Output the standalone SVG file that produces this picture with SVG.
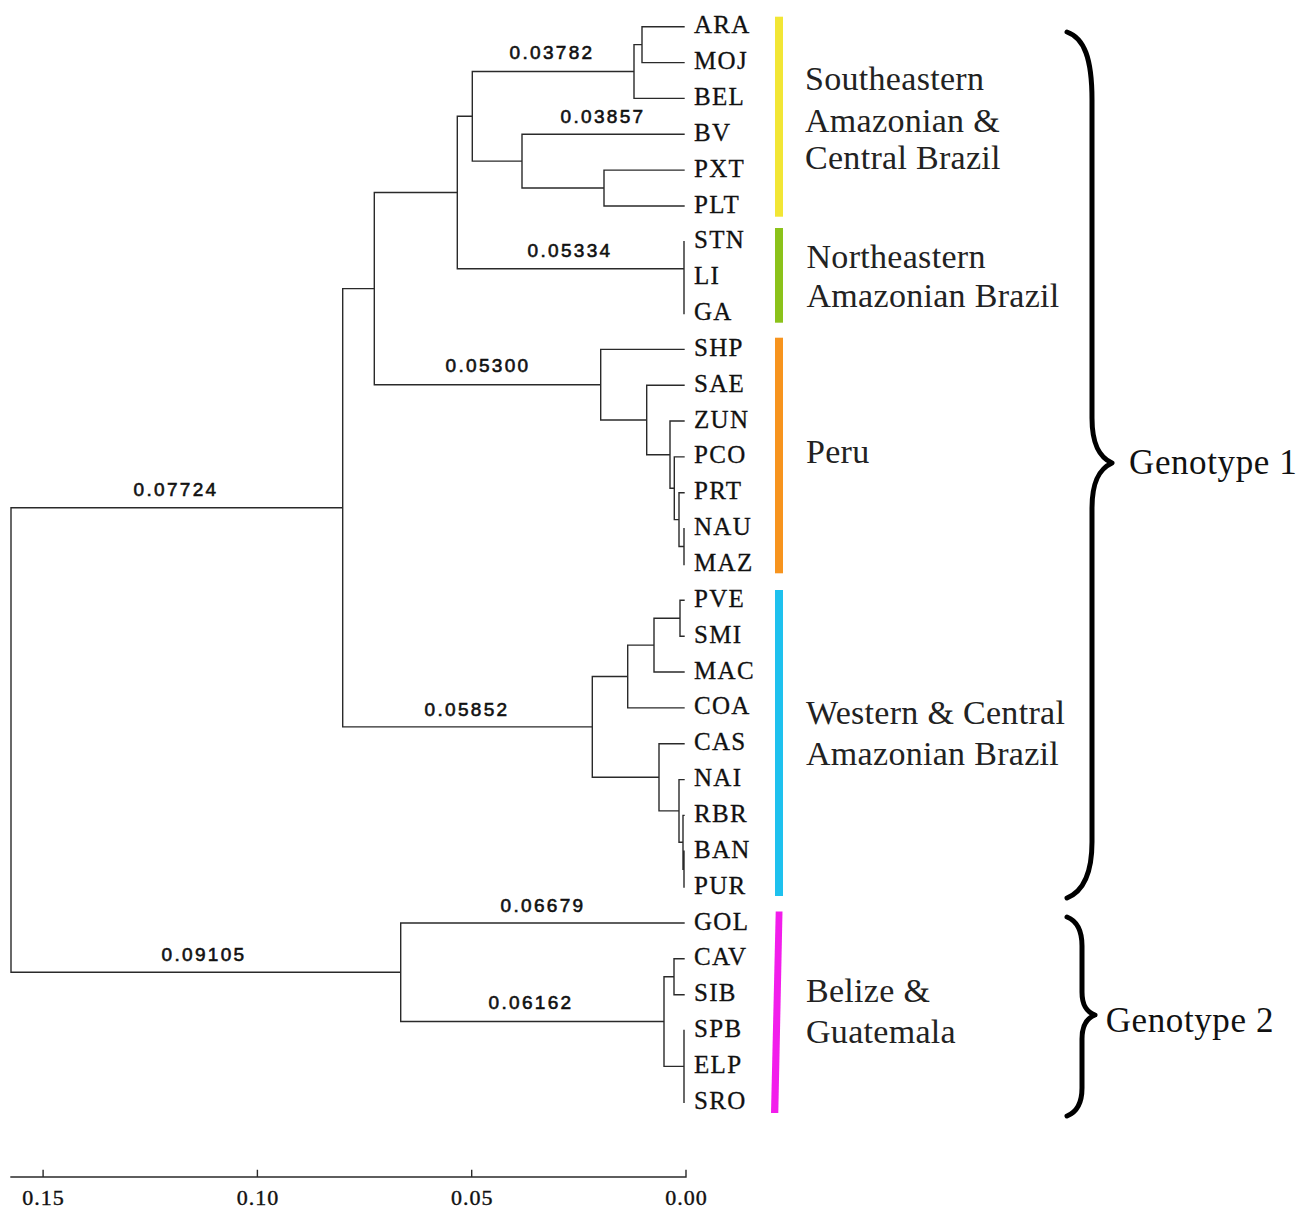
<svg xmlns="http://www.w3.org/2000/svg" width="1298" height="1208" viewBox="0 0 1298 1208">
<style>
.br{fill:none;stroke:#2a2a2a;stroke-width:1.4;stroke-linecap:square}
.leaf{font-family:"Liberation Serif",serif;font-size:25px;letter-spacing:1.3px;fill:#111;stroke:#111;stroke-width:0.3}
.bl{font-family:"Liberation Sans",Arial,sans-serif;font-size:19px;letter-spacing:2.3px;fill:#111;stroke:#111;stroke-width:0.6;text-anchor:middle}
.clade{font-family:"Liberation Serif",serif;font-size:34px;letter-spacing:0.3px;fill:#222}
.geno{font-family:"Liberation Serif",serif;font-size:35px;letter-spacing:0.6px;fill:#111}
.brace{fill:none;stroke:#000;stroke-width:5;stroke-linecap:round;stroke-linejoin:round}
.ax{font-family:"Liberation Serif",serif;font-size:22px;letter-spacing:1px;fill:#111;stroke:#111;stroke-width:0.4;text-anchor:middle}
</style>
<rect width="1298" height="1208" fill="#fff"/>
<g id="connectors">
<path class="br" d="M11,507.8V972.2M11,507.8H342.7M11,972.2H400.7
M342.7,288.6V726.9M342.7,288.6H374.3M342.7,726.9H592.3
M374.3,192.5V384.7M374.3,192.5H457.3M374.3,384.7H600.7
M457.3,116.3V268.7M457.3,116.3H472.3M457.3,268.7H684
M472.3,71.5V161.1M472.3,71.5H634M472.3,161.1H522
M634,44.6V98.4M634,44.6H642M634,98.4H684
M642,26.7V62.6M642,26.7H684M642,62.6H684
M522,134.3V188M522,134.3H684M522,188H604
M604,170.1V206M604,170.1H684M604,206H684
M684,241.8V313.5
M600.7,349.4V420M600.7,349.4H684M600.7,420H646.7
M646.7,385.2V454.7M646.7,385.2H684M646.7,454.7H670
M670,421V488.3M670,421H684M670,488.3H674.3
M674.3,456.9V519.6M674.3,456.9H684M674.3,519.6H679
M679,492.8V546.5M679,492.8H684M679,546.5H684
M684,528.6V564.5
M592.3,676.5V777.3M592.3,676.5H627.7M592.3,777.3H659
M627.7,645.1V707.9M627.7,645.1H654M627.7,707.9H684
M654,618.2V672M654,618.2H680M654,672H684
M680,600.3V636.2M680,600.3H684M680,636.2H684
M659,743.7V810.9M659,743.7H684M659,810.9H679
M679,779.6V842.3M679,779.6H684M679,842.3H683
M683,815.4V869.2M683,815.4H684
M684,851.3V887.1
M400.7,923V1021.5M400.7,923H684M400.7,1021.5H664
M664,976.7V1066.4M664,976.7H674M664,1066.4H684
M674,958.8V994.7M674,958.8H684M674,994.7H684
M684,1030.5V1102.2"/>
</g>
<g id="branch-labels">
<text class="bl" x="552" y="59">0.03782</text>
<text class="bl" x="603" y="122.7">0.03857</text>
<text class="bl" x="570" y="257">0.05334</text>
<text class="bl" x="488" y="372">0.05300</text>
<text class="bl" x="176" y="495.7">0.07724</text>
<text class="bl" x="467" y="716">0.05852</text>
<text class="bl" x="543" y="911.7">0.06679</text>
<text class="bl" x="204" y="960.7">0.09105</text>
<text class="bl" x="531" y="1009.3">0.06162</text>
</g>
<g id="leaves">
<g id="ARA"><text class="leaf" x="694" y="33.2">ARA</text></g>
<g id="MOJ"><text class="leaf" x="694" y="69.1">MOJ</text></g>
<g id="BEL"><text class="leaf" x="694" y="104.9">BEL</text></g>
<g id="BV"><text class="leaf" x="694" y="140.8">BV</text></g>
<g id="PXT"><text class="leaf" x="694" y="176.6">PXT</text></g>
<g id="PLT"><text class="leaf" x="694" y="212.5">PLT</text></g>
<g id="STN"><text class="leaf" x="694" y="248.3">STN</text></g>
<g id="LI"><text class="leaf" x="694" y="284.2">LI</text></g>
<g id="GA"><text class="leaf" x="694" y="320">GA</text></g>
<g id="SHP"><text class="leaf" x="694" y="355.9">SHP</text></g>
<g id="SAE"><text class="leaf" x="694" y="391.7">SAE</text></g>
<g id="ZUN"><text class="leaf" x="694" y="427.6">ZUN</text></g>
<g id="PCO"><text class="leaf" x="694" y="463.4">PCO</text></g>
<g id="PRT"><text class="leaf" x="694" y="499.3">PRT</text></g>
<g id="NAU"><text class="leaf" x="694" y="535.1">NAU</text></g>
<g id="MAZ"><text class="leaf" x="694" y="571">MAZ</text></g>
<g id="PVE"><text class="leaf" x="694" y="606.8">PVE</text></g>
<g id="SMI"><text class="leaf" x="694" y="642.7">SMI</text></g>
<g id="MAC"><text class="leaf" x="694" y="678.5">MAC</text></g>
<g id="COA"><text class="leaf" x="694" y="714.4">COA</text></g>
<g id="CAS"><text class="leaf" x="694" y="750.2">CAS</text></g>
<g id="NAI"><text class="leaf" x="694" y="786.1">NAI</text></g>
<g id="RBR"><text class="leaf" x="694" y="821.9">RBR</text></g>
<g id="BAN"><text class="leaf" x="694" y="857.8">BAN</text></g>
<g id="PUR"><text class="leaf" x="694" y="893.6">PUR</text></g>
<g id="GOL"><text class="leaf" x="694" y="929.5">GOL</text></g>
<g id="CAV"><text class="leaf" x="694" y="965.3">CAV</text></g>
<g id="SIB"><text class="leaf" x="694" y="1001.2">SIB</text></g>
<g id="SPB"><text class="leaf" x="694" y="1037">SPB</text></g>
<g id="ELP"><text class="leaf" x="694" y="1072.9">ELP</text></g>
<g id="SRO"><text class="leaf" x="694" y="1108.7">SRO</text></g>
</g>
<g id="clade-SE">
<rect x="775" y="16.7" width="8" height="200" fill="#F2E635"/>
<text class="clade" x="805" y="90">Southeastern</text>
<text class="clade" x="805" y="131.7">Amazonian &amp;</text>
<text class="clade" x="805" y="169.3">Central Brazil</text>
</g>
<g id="clade-NE">
<rect x="775" y="228" width="8" height="94.7" fill="#8BC21A"/>
<text class="clade" x="806.5" y="267.7">Northeastern</text>
<text class="clade" x="806.5" y="306.7">Amazonian Brazil</text>
</g>
<g id="clade-Peru">
<rect x="775" y="337.7" width="8" height="235.6" fill="#F7941E"/>
<text class="clade" x="806" y="463">Peru</text>
</g>
<g id="clade-West">
<rect x="775" y="590" width="8" height="306" fill="#1EC1EE"/>
<text class="clade" x="806" y="724">Western &amp; Central</text>
<text class="clade" x="806" y="765">Amazonian Brazil</text>
</g>
<g id="clade-Belize">
<polygon points="775.7,911.5 782.5,911.5 778.3,1113 771,1113" fill="#F21DEB"/>
<text class="clade" x="806" y="1002">Belize &amp;</text>
<text class="clade" x="806" y="1043">Guatemala</text>
</g>
<g id="genotype1">
<path class="brace" d="M1067,32 C1084,38 1092,58 1092,100 L1092,418 C1092,444 1099,457 1112,463 C1099,469 1092,482 1092,508 L1092,842 C1092,872 1084,891 1067,898"/>
<text class="geno" x="1129" y="474.3">Genotype 1</text>
</g>
<g id="genotype2">
<path class="brace" d="M1067,917 C1077,921 1082,930 1082,946 L1082,992 C1082,1006 1087,1012 1095,1015 C1087,1018 1082,1025 1082,1039 L1082,1088 C1082,1103 1077,1112 1067,1116"/>
<text class="geno" x="1105.7" y="1031.7">Genotype 2</text>
</g>
<g id="axis">
<path class="br" d="M11,1177H686M43.1,1177V1170.5M257.4,1177V1170.5M471.7,1177V1170.5M686,1177V1170.5"/>
<text class="ax" x="43.6" y="1205">0.15</text>
<text class="ax" x="257.9" y="1205">0.10</text>
<text class="ax" x="472.2" y="1205">0.05</text>
<text class="ax" x="686.5" y="1205">0.00</text>
</g>
</svg>
